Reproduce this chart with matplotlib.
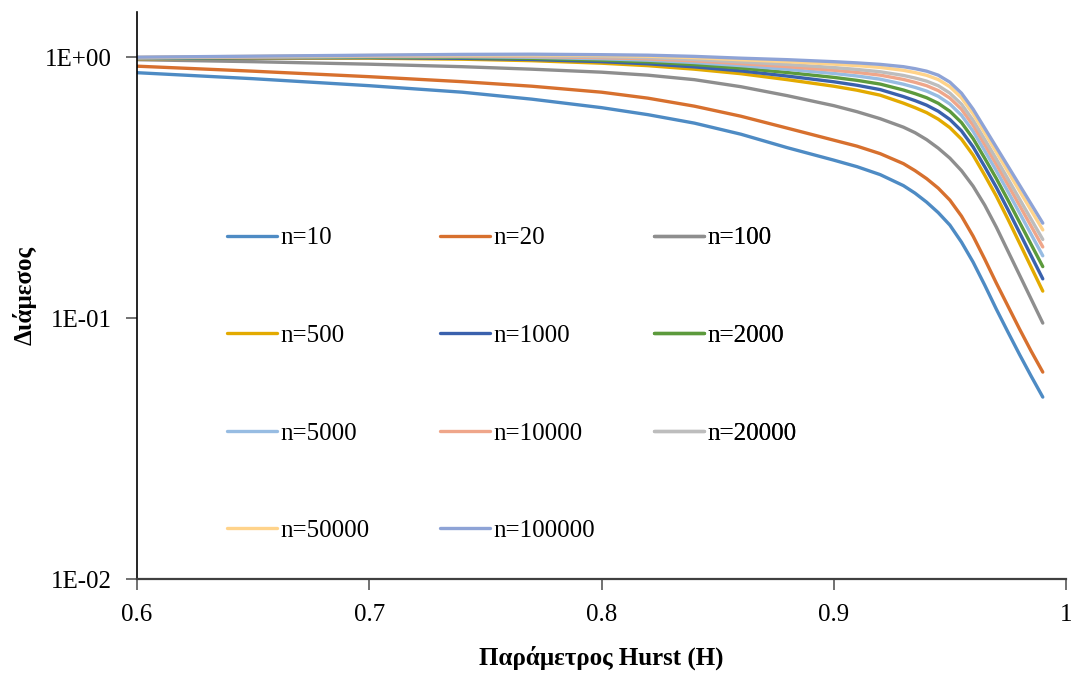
import matplotlib
matplotlib.use("Agg")
import matplotlib.pyplot as plt
from matplotlib.ticker import FixedLocator, FuncFormatter, NullLocator

# Hurst parameter grid (finer near the knee of the curves)
hurst = [0.60, 0.65, 0.70, 0.74, 0.77, 0.80, 0.82, 0.84, 0.86, 0.88, 0.90,
         0.91, 0.92, 0.93, 0.935, 0.94, 0.945, 0.95, 0.955, 0.96, 0.965,
         0.97, 0.975, 0.98, 0.985, 0.99]

# Median values for each sample size n
n10 = [0.8721, 0.8271, 0.7776, 0.7342, 0.6904, 0.6406, 0.6021, 0.5588,
       0.5068, 0.4499, 0.4031, 0.3805, 0.3547, 0.3219, 0.3012, 0.2782,
       0.2536, 0.2272, 0.1955, 0.1639, 0.1338, 0.1082, 0.0884, 0.0725,
       0.0599, 0.0498]
n20 = [0.9237, 0.8838, 0.8419, 0.8057, 0.7740, 0.7342, 0.6965, 0.6490,
       0.5940, 0.5346, 0.4808, 0.4560, 0.4268, 0.3908, 0.3674, 0.3423,
       0.3147, 0.2833, 0.2459, 0.2061, 0.1683, 0.1362, 0.1112, 0.0908,
       0.0747, 0.0621]
n100 = [0.9782, 0.9611, 0.9401, 0.9196, 0.8995, 0.8761, 0.8532, 0.8200,
        0.7707, 0.7120, 0.6520, 0.6181, 0.5811, 0.5392, 0.5136, 0.4830,
        0.4480, 0.4102, 0.3674, 0.3204, 0.2710, 0.2232, 0.1806, 0.1462,
        0.1183, 0.0957]
n500 = [0.9868, 0.9912, 0.9912, 0.9825, 0.9696, 0.9484, 0.9278, 0.8995,
        0.8645, 0.8200, 0.7740, 0.7472, 0.7151, 0.6665, 0.6405, 0.6130,
        0.5787, 0.5370, 0.4851, 0.4212, 0.3530, 0.2935, 0.2394, 0.1938,
        0.1568, 0.1269]
n1000 = [0.9892, 0.9944, 0.9960, 0.9900, 0.9797, 0.9613, 0.9434, 0.9180,
         0.8860, 0.8464, 0.8050, 0.7805, 0.7512, 0.7063, 0.6816, 0.6546,
         0.6206, 0.5771, 0.5218, 0.4530, 0.3804, 0.3171, 0.2605, 0.2126,
         0.1733, 0.1414]
n2000 = [0.9916, 0.9975, 1.0007, 0.9976, 0.9898, 0.9744, 0.9592, 0.9369,
         0.9082, 0.8735, 0.8367, 0.8152, 0.7887, 0.7484, 0.7248, 0.6991,
         0.6656, 0.6204, 0.5615, 0.4875, 0.4100, 0.3428, 0.2834, 0.2330,
         0.1915, 0.1575]
n5000 = [0.9937, 1.0004, 1.0050, 1.0044, 0.9989, 0.9862, 0.9735, 0.9540,
         0.9283, 0.8987, 0.8662, 0.8471, 0.8236, 0.7878, 0.7661, 0.7414,
         0.7081, 0.6615, 0.5990, 0.5202, 0.4380, 0.3674, 0.3054, 0.2529,
         0.2094, 0.1733]
n10000 = [0.9954, 1.0026, 1.0084, 1.0099, 1.0064, 0.9958, 0.9853, 0.9681,
          0.9449, 0.9196, 0.8910, 0.8741, 0.8534, 0.8216, 0.8010, 0.7775,
          0.7447, 0.6970, 0.6315, 0.5483, 0.4623, 0.3886, 0.3246, 0.2703,
          0.2251, 0.1874]
n20000 = [0.9968, 1.0046, 1.0114, 1.0147, 1.0128, 1.0041, 0.9954, 0.9802,
          0.9592, 0.9376, 0.9126, 0.8976, 0.8793, 0.8512, 0.8320, 0.8094,
          0.7772, 0.7283, 0.6604, 0.5734, 0.4839, 0.4074, 0.3418, 0.2859,
          0.2392, 0.2002]
n50000 = [0.9987, 1.0071, 1.0151, 1.0207, 1.0210, 1.0147, 1.0084, 0.9958,
          0.9778, 0.9611, 0.9405, 0.9284, 0.9134, 0.8906, 0.8730, 0.8521,
          0.8207, 0.7704, 0.6987, 0.6069, 0.5128, 0.4328, 0.3648, 0.3072,
          0.2586, 0.2178]
n100000 = [1.0000, 1.0089, 1.0178, 1.0250, 1.0268, 1.0223, 1.0178, 1.0071,
           0.9912, 0.9782, 0.9611, 0.9510, 0.9385, 0.9196, 0.9036, 0.8838,
           0.8532, 0.8022, 0.7278, 0.6320, 0.5346, 0.4519, 0.3823, 0.3233,
           0.2734, 0.2312]

labels = ["n=10", "n=20", "n=100", "n=500", "n=1000", "n=2000", "n=5000",
          "n=10000", "n=20000", "n=50000", "n=100000"]
series = [n10, n20, n100, n500, n1000, n2000, n5000, n10000, n20000,
          n50000, n100000]
colors = ["#4E8BC4", "#D7702E", "#8E8E8E", "#E3AA00", "#3A61AD", "#5C9A3C",
          "#97BCE2", "#EFA68A", "#BDBDBD", "#FFD38A", "#8EA3D6"]

x_ticks = [0.6, 0.7, 0.8, 0.9, 1.0]
y_ticks = [0.01, 0.1, 1.0]

plt.rcParams["font.family"] = ["Liberation Serif", "DejaVu Serif"]

W, H = 1073, 675
fig = plt.figure(figsize=(W / 100, H / 100), dpi=100)
ax = fig.add_axes([137 / W, 1 - 579 / H, (1066 - 137) / W, (579 - 12) / H])

handles = []
for vals, lab, col in zip(series, labels, colors):
    (ln,) = ax.plot(hurst, vals, color=col, lw=2.4, label=lab,
                    solid_joinstyle="round", solid_capstyle="round")
    handles.append(ln)

ax.set_yscale("log")
ax.set_xlim(0.6, 1.0)
ax.set_ylim(0.01, 1.49)

ax.xaxis.set_major_locator(FixedLocator(x_ticks))
ax.xaxis.set_major_formatter(FuncFormatter(lambda v, p: f"{v:g}"))
ax.yaxis.set_major_locator(FixedLocator(y_ticks))
ax.yaxis.set_major_formatter(FuncFormatter(lambda v, p: f"{v:.0E}"))
ax.yaxis.set_minor_locator(NullLocator())
ax.xaxis.set_minor_locator(NullLocator())

for side in ("top", "right"):
    ax.spines[side].set_visible(False)
ax.spines["left"].set_color("#000000")
ax.spines["left"].set_linewidth(1.2)
ax.spines["bottom"].set_color("#404040")
ax.spines["bottom"].set_linewidth(1.6)

ax.tick_params(axis="y", direction="out", length=8, width=1.2,
               color="#595959", pad=10, labelsize=18)
ax.tick_params(axis="x", direction="out", length=8, width=1.2,
               color="#595959", pad=10, labelsize=18)

fig.text(601 / W, 1 - 658 / H, "Παράμετρος Hurst (H)", ha="center",
         va="center", fontsize=18, fontweight="bold")
fig.text(25 / W, 1 - 295 / H, "Διάμεσος", ha="center", va="center",
         rotation=90, fontsize=18, fontweight="bold")

# Legend laid out row by row in three columns
col_x = [227, 440, 654]
for c in range(3):
    hs = handles[c::3]
    leg = ax.legend(hs, [h.get_label() for h in hs], loc="upper left",
                    bbox_to_anchor=(col_x[c] / W, 1 - 227 / H),
                    bbox_transform=fig.transFigure, frameon=False,
                    borderpad=0, borderaxespad=0, handlelength=2.0,
                    handletextpad=0.15, labelspacing=3.0, fontsize=18)
    ax.add_artist(leg)

fig.savefig("out.png", dpi=100)
